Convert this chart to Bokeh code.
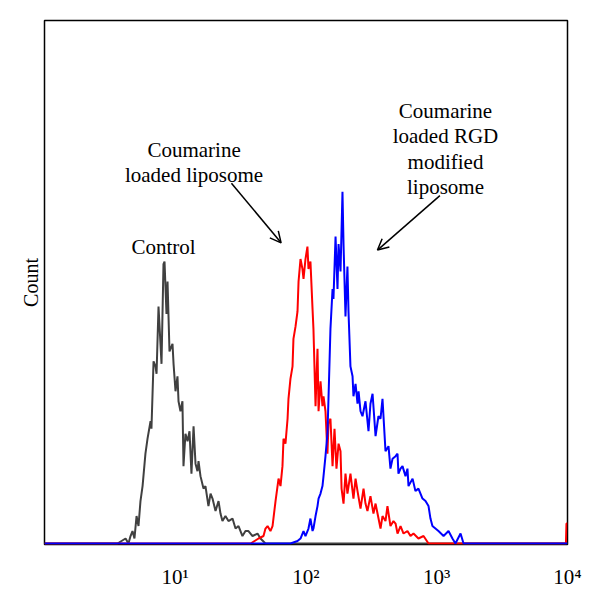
import numpy as np
from bokeh.plotting import figure
from bokeh.models import Label, Arrow, OpenHead, FixedTicker, Range1d
from bokeh.embed import file_html
from bokeh.resources import INLINE

# ---- data: log10(fluorescence intensity) and counts ----
ctrl_log10 = [0.0, 0.558, 0.620, 0.642, 0.658, 0.673, 0.688, 0.704, 0.719, 0.734, 0.750,
              0.772, 0.788, 0.811, 0.818, 0.834, 0.849, 0.857, 0.872, 0.895, 0.910, 0.918,
              0.933, 0.941, 0.956, 0.979, 0.987, 1.002, 1.017, 1.025, 1.040, 1.055, 1.063,
              1.078, 1.094, 1.109, 1.124, 1.140, 1.155, 1.170, 1.178, 1.193, 1.216, 1.231,
              1.254, 1.270, 1.285, 1.308, 1.331, 1.346, 1.361, 1.384, 1.407, 1.438, 1.461,
              1.484, 1.514, 1.537, 1.560, 1.591, 1.629, 1.652, 1.690, 4.0]
ctrl_count = [0, 0, 2, 0, 3, 5, 2, 11, 7, 17, 23,
              36, 42, 49, 46, 73, 71, 68, 95, 72, 112, 113,
              92, 105, 77, 80, 72, 61, 67, 57, 53, 57, 31,
              44, 41, 45, 28, 47, 32, 29, 33, 27, 22, 23,
              15, 20, 18, 13, 17, 12, 9, 11, 9, 10, 6,
              7, 3, 5, 5, 3, 4, 2, 0, 0]

lipo_log10 = [0.0, 1.576, 1.637, 1.675, 1.690, 1.706, 1.728, 1.744, 1.767, 1.790, 1.805,
              1.820, 1.828, 1.843, 1.859, 1.866, 1.881, 1.897, 1.904, 1.920, 1.935, 1.943,
              1.958, 1.973, 1.981, 1.996, 2.011, 2.019, 2.034, 2.050, 2.057, 2.073, 2.088,
              2.096, 2.111, 2.126, 2.134, 2.149, 2.164, 2.172, 2.187, 2.203, 2.218, 2.233,
              2.249, 2.264, 2.272, 2.287, 2.302, 2.317, 2.340, 2.363, 2.379, 2.394, 2.417,
              2.440, 2.455, 2.470, 2.493, 2.516, 2.532, 2.547, 2.570, 2.585, 2.608, 2.623,
              2.646, 2.669, 2.685, 2.700, 2.723, 2.746, 2.776, 2.799, 2.822, 2.860, 2.899,
              2.937, 3.988, 3.992, 4.0]
lipo_count = [0, 0, 2, 3, 6, 7, 5, 7, 17, 26, 23,
              31, 42, 40, 50, 58, 66, 71, 82, 87, 93, 105,
              114, 110, 106, 114, 119, 110, 113, 94, 86, 55, 78,
              53, 65, 55, 59, 53, 36, 48, 50, 31, 46, 30,
              40, 37, 22, 16, 28, 20, 28, 18, 26, 21, 14,
              22, 16, 13, 19, 12, 16, 12, 6, 11, 9, 15,
              7, 9, 8, 4, 7, 4, 5, 3, 4, 2, 3,
              0, 0, 8, 8]

rgd_log10 = [0.0, 1.881, 1.935, 1.958, 1.981, 1.996, 2.019, 2.034, 2.050, 2.057, 2.073,
             2.088, 2.096, 2.111, 2.126, 2.134, 2.149, 2.164, 2.172, 2.187, 2.203, 2.210,
             2.226, 2.241, 2.249, 2.264, 2.279, 2.287, 2.302, 2.317, 2.325, 2.340, 2.356,
             2.363, 2.379, 2.394, 2.402, 2.417, 2.432, 2.455, 2.478, 2.493, 2.509, 2.532,
             2.554, 2.570, 2.585, 2.608, 2.631, 2.646, 2.662, 2.685, 2.700, 2.707, 2.723,
             2.738, 2.761, 2.776, 2.784, 2.815, 2.837, 2.860, 2.891, 2.914, 2.937, 2.952,
             2.967, 2.990, 3.013, 3.052, 3.090, 3.120, 3.143, 3.182, 3.205, 4.0]
rgd_count = [0, 0, 1, 2, 5, 3, 6, 10, 5, 6, 11,
             15, 18, 20, 23, 27, 35, 44, 58, 86, 102, 98,
             123, 102, 120, 109, 141, 120, 91, 111, 93, 71, 67,
             59, 64, 56, 61, 53, 51, 57, 45, 56, 60, 43,
             51, 50, 58, 37, 39, 30, 34, 35, 36, 28, 30,
             31, 27, 30, 23, 26, 21, 22, 18, 17, 15, 10,
             7, 6, 5, 3, 5, 2, 0, 4, 0, 0]

tick_values = [10, 100, 1000, 10000]
tick_labels = ["10\u00b9", "10\u00b2", "10\u00b3", "10\u2074"]

FONT = "Liberation Serif"

p = figure(width=592, height=591, x_axis_type="log",
           x_range=Range1d(1, 1e4), y_range=Range1d(-0.4, 209.6),
           output_backend="svg", toolbar_location=None,
           min_border_left=44, min_border_right=25, min_border_top=20, min_border_bottom=46)
p.background_fill_color = "white"
p.border_fill_color = "white"
p.outline_line_color = "black"
p.outline_line_width = 1.5
p.xgrid.visible = False
p.ygrid.visible = False

p.xaxis.ticker = FixedTicker(ticks=tick_values, minor_ticks=[])
p.xaxis.major_label_overrides = dict(zip(tick_values, tick_labels))
p.xaxis.axis_line_color = None
p.xaxis.major_tick_line_color = None
p.xaxis.minor_tick_line_color = None
p.xaxis.major_tick_out = 0
p.xaxis.major_label_standoff = 20
p.xaxis.major_label_text_font = FONT
p.xaxis.major_label_text_font_size = "21px"
p.xaxis.major_label_text_color = "black"

p.yaxis.ticker = FixedTicker(ticks=[])
p.yaxis.axis_line_color = None
p.yaxis.major_tick_line_color = None
p.yaxis.minor_tick_line_color = None
p.yaxis.major_tick_out = 0
p.yaxis.axis_label = "Count"
p.yaxis.axis_label_text_font = FONT
p.yaxis.axis_label_text_font_size = "20px"
p.yaxis.axis_label_text_font_style = "normal"
p.yaxis.axis_label_text_color = "black"
p.yaxis.axis_label_standoff = 3

p.line(10 ** np.array(ctrl_log10), ctrl_count, line_color="#404040", line_width=2)
p.line(10 ** np.array(lipo_log10), lipo_count, line_color="#ff0000", line_width=2)
p.line(10 ** np.array(rgd_log10), rgd_count, line_color="#0000ff", line_width=2)

def lab(x, y, t):
    p.add_layout(Label(x=x, y=y, text=t, text_align="center", text_baseline="alphabetic",
                       text_font=FONT, text_font_size="21px", text_color="black"))

lab(8.13, 118.8, "Control")
lab(13.93, 157.6, "Coumarine")
lab(13.93, 147.6, "loaded liposome")
lab(1166, 173.2, "Coumarine")
lab(1166, 163.2, "loaded RGD")
lab(1166, 152.8, "modified")
lab(1166, 142.8, "liposome")

p.add_layout(Arrow(x_start=26.9, y_start=144.4, x_end=64.5, y_end=120.5,
                   line_color="black", line_width=1.5,
                   end=OpenHead(size=11, line_color="black", line_width=1.5)))
p.add_layout(Arrow(x_start=1057, y_start=139.4, x_end=352, y_end=117.6,
                   line_color="black", line_width=1.5,
                   end=OpenHead(size=11, line_color="black", line_width=1.5)))

open("out.html", "w").write(file_html(p, INLINE))
